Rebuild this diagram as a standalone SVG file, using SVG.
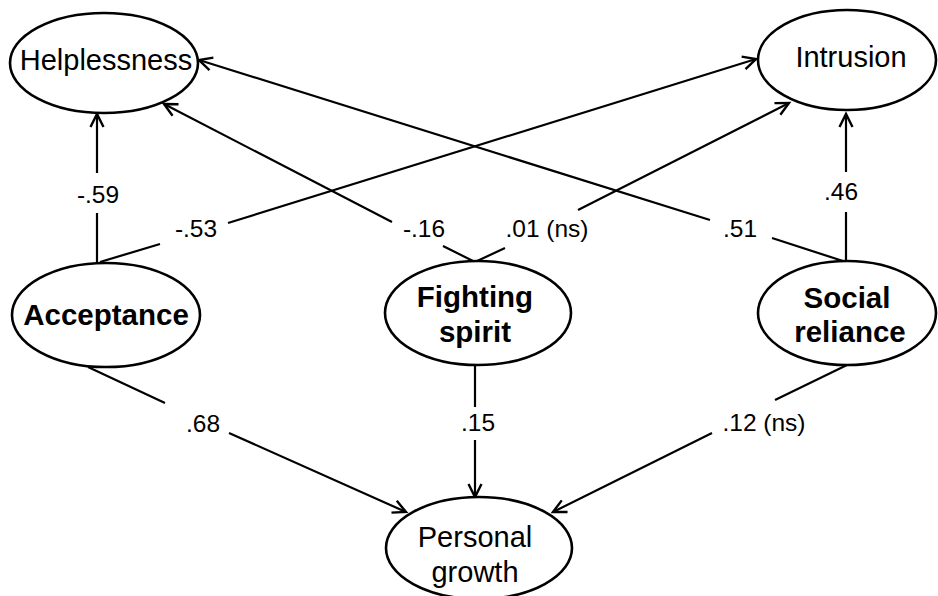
<svg xmlns="http://www.w3.org/2000/svg" width="938" height="596" viewBox="0 0 938 596">
  <style>
    .node ellipse { fill: #fff; stroke: #000; stroke-width: 2.6; }
    .lbl { font-family: "Liberation Sans", Arial, sans-serif; font-size: 29px; fill: #000; text-anchor: middle; }
    .bold { font-weight: bold; font-size: 29.5px; }
    .edge { fill: none; stroke: #000; stroke-width: 2.2; }
    .coef { font-family: "Liberation Sans", Arial, sans-serif; font-size: 24.5px; fill: #000; text-anchor: middle; }
  </style>
  <defs>
    <marker id="arrow" markerUnits="userSpaceOnUse" markerWidth="20" markerHeight="20" refX="0" refY="0" viewBox="-16 -10 20 20" orient="auto" overflow="visible">
      <path d="M-13,-6.5 L0,0 L-13,6.5" fill="none" stroke="#000" stroke-width="2.4"/>
    </marker>
  </defs>
  <rect width="938" height="596" fill="#fff"/>

  <!-- connectors: each path is broken where its coefficient sits -->
  <g id="connectors">
    <path class="edge" d="M97,263 L97,213 M97,173 L97,114" marker-end="url(#arrow)"/>
    <path class="edge" d="M100,262 L160,244 M228,223 L756,59" marker-end="url(#arrow)"/>
    <path class="edge" d="M475,262 L443,246 M392,222 L164,104" marker-end="url(#arrow)"/>
    <path class="edge" d="M475,262 L505,248 M578,210 L789,103" marker-end="url(#arrow)"/>
    <path class="edge" d="M846,262 L772,238 M710,220 L199,60" marker-end="url(#arrow)"/>
    <path class="edge" d="M846,262 L846,212 M846,172 L846,114" marker-end="url(#arrow)"/>
    <path class="edge" d="M88,367 L165,403 M229,433 L406,512" marker-end="url(#arrow)"/>
    <path class="edge" d="M475,365 L475,407 M475,440 L475,497" marker-end="url(#arrow)"/>
    <path class="edge" d="M847,365 L775,400 M712,433 L553,512" marker-end="url(#arrow)"/>

    <text class="coef" x="98" y="203">-.59</text>
    <text class="coef" x="196" y="237">-.53</text>
    <text class="coef" x="424" y="237">-.16</text>
    <text class="coef" x="547" y="237">.01 (ns)</text>
    <text class="coef" x="740" y="237">.51</text>
    <text class="coef" x="841" y="200">.46</text>
    <text class="coef" x="203" y="432">.68</text>
    <text class="coef" x="478" y="431">.15</text>
    <text class="coef" x="764" y="431">.12 (ns)</text>
  </g>

  <g id="helplessness" class="node">
    <ellipse cx="104" cy="63" rx="94" ry="50"/>
    <text class="lbl" x="106" y="70">Helplessness</text>
  </g>
  <g id="intrusion" class="node">
    <ellipse cx="847" cy="60" rx="89" ry="50"/>
    <text class="lbl" x="851" y="67">Intrusion</text>
  </g>
  <g id="acceptance" class="node">
    <ellipse cx="106" cy="315" rx="94" ry="52"/>
    <text class="lbl bold" x="106" y="325">Acceptance</text>
  </g>
  <g id="fighting-spirit" class="node">
    <ellipse cx="478" cy="313" rx="93" ry="52"/>
    <text class="lbl bold" x="475" y="307">Fighting</text>
    <text class="lbl bold" x="475" y="342">spirit</text>
  </g>
  <g id="social-reliance" class="node">
    <ellipse cx="847" cy="313" rx="89" ry="52"/>
    <text class="lbl bold" x="847" y="308">Social</text>
    <text class="lbl bold" x="850" y="342">reliance</text>
  </g>
  <g id="personal-growth" class="node">
    <ellipse cx="479" cy="548" rx="93" ry="51"/>
    <text class="lbl" x="475" y="547">Personal</text>
    <text class="lbl" x="475" y="582">growth</text>
  </g>
</svg>
